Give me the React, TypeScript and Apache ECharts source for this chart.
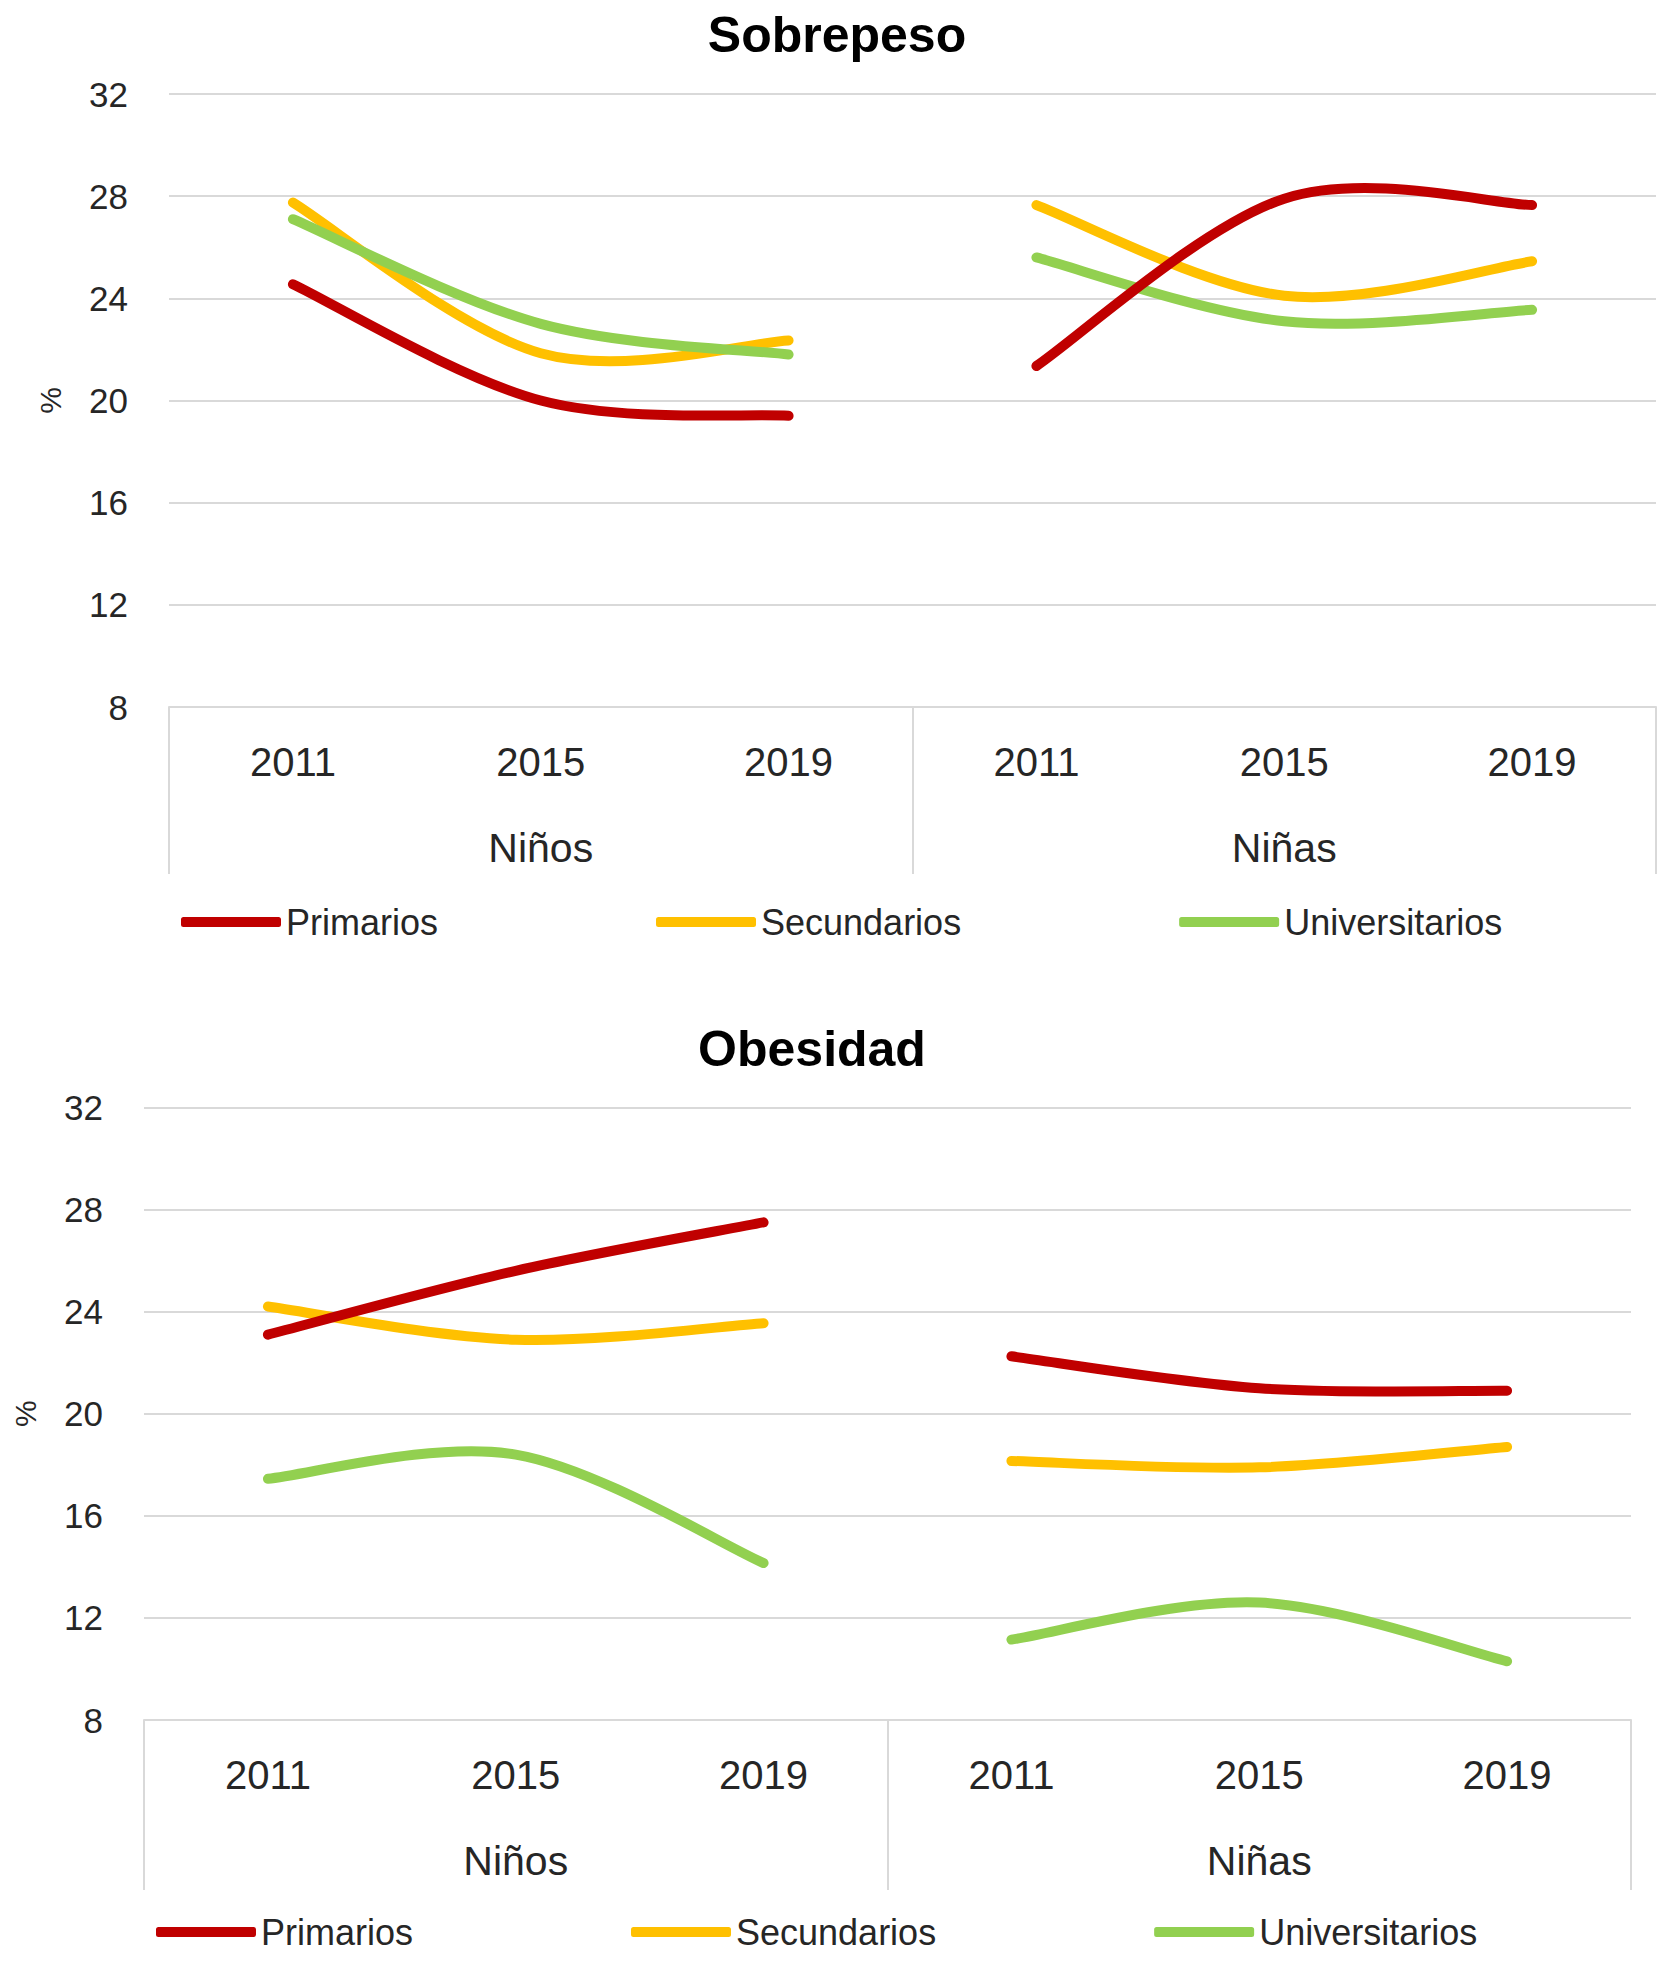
import React, { useEffect, useRef } from "react";
import * as echarts from "echarts";

const years = ["2011", "2015", "2019", "2011", "2015", "2019"];
const groups = ["Niños", "Niñas"];
const levels = ["Primarios", "Secundarios", "Universitarios"];
const levelColors = ["#C00000", "#FFC000", "#92D050"];
const yTicks = { min: 8, max: 32, interval: 4 };

// Sobrepeso (Niños 2011, 2015, 2019, Niñas 2011, 2015, 2019)
const sobrePrimarios = [24.55, 20.0, 19.4, 21.35, 27.9, 27.65];
const sobreSecundarios = [27.75, 21.85, 22.35, 27.65, 24.1, 25.45];
const sobreUniversitarios = [27.1, 23.0, 21.8, 25.6, 23.1, 23.55];

// Obesidad
const obesPrimarios = [23.1, 25.6, 27.5, 22.25, 21.0, 20.9];
const obesSecundarios = [24.2, 22.9, 23.55, 18.15, 17.9, 18.7];
const obesUniversitarios = [17.45, 18.4, 14.15, 11.15, 12.6, 10.3];

const titles = ["Sobrepeso", "Obesidad"];

const FONT = "Liberation Sans, Arial, sans-serif";
const TEXT = "#262626";
const GRIDC = "#D9D9D9";

// Catmull-Rom style smoothing (like a spreadsheet's smoothed line) on pixel points
function smoothPath(pts: number[][]): string {
  let d = `M${pts[0][0]},${pts[0][1]}`;
  for (let i = 0; i < pts.length - 1; i++) {
    const p0 = pts[i - 1] || pts[i];
    const p1 = pts[i];
    const p2 = pts[i + 1];
    const p3 = pts[i + 2] || pts[i + 1];
    const c1x = p1[0] + (p2[0] - p0[0]) / 6;
    const c1y = p1[1] + (p2[1] - p0[1]) / 6;
    const c2x = p2[0] - (p3[0] - p1[0]) / 6;
    const c2y = p2[1] - (p3[1] - p1[1]) / 6;
    d += ` C${c1x},${c1y} ${c2x},${c2y} ${p2[0]},${p2[1]}`;
  }
  return d;
}

export default function App() {
  const ref = useRef<HTMLDivElement>(null);

  useEffect(() => {
    if (!ref.current) return;
    const chart = echarts.init(ref.current, undefined, { renderer: "svg" });

    const panels = [
      { left: 169, top: 94, height: 613, tick: 167, legendLeft: 181, legendTop: 904, titleX: 832, titleTop: 5,
        data: [sobrePrimarios, sobreSecundarios, sobreUniversitarios] },
      { left: 144, top: 1107.5, height: 612.5, tick: 170, legendLeft: 156, legendTop: 1914, titleX: 807, titleTop: 1019,
        data: [obesPrimarios, obesSecundarios, obesUniversitarios] },
    ];

    const grid: any[] = [];
    const xAxis: any[] = [];
    const yAxis: any[] = [];
    const series: any[] = [];
    const legend: any[] = [];
    const title: any[] = [];

    panels.forEach((p, pi) => {
      grid.push({ left: p.left, top: p.top, width: 1487, height: p.height, containLabel: false, outerBoundsMode: "none" });
      xAxis.push({
        type: "category",
        gridIndex: pi,
        data: years,
        position: "bottom",
        boundaryGap: true,
        axisLine: { show: true, lineStyle: { color: GRIDC, width: 2 } },
        axisTick: { show: false },
        axisLabel: { margin: 35, fontSize: 40, color: TEXT, fontFamily: FONT, interval: 0 },
        splitLine: { show: false },
      });
      xAxis.push({
        type: "category",
        gridIndex: pi,
        data: groups,
        position: "bottom",
        boundaryGap: true,
        axisLine: { show: false },
        axisTick: { show: true, length: p.tick, interval: 0, alignWithLabel: false, lineStyle: { color: GRIDC, width: 2 } },
        axisLabel: { margin: 120, fontSize: 41, color: TEXT, fontFamily: FONT, interval: 0 },
        splitLine: { show: false },
      });
      yAxis.push({
        type: "value",
        gridIndex: pi,
        min: yTicks.min,
        max: yTicks.max,
        interval: yTicks.interval,
        name: "%",
        nameLocation: "middle",
        nameGap: 104,
        nameRotate: 90,
        nameTextStyle: { fontSize: 30, color: TEXT, fontFamily: FONT },
        axisLine: { show: false },
        axisTick: { show: false },
        axisLabel: { margin: 41, fontSize: 35, color: TEXT, fontFamily: FONT },
        splitLine: { show: true, lineStyle: { color: GRIDC, width: 2 } },
      });
      title.push({
        text: titles[pi],
        left: p.titleX,
        top: p.titleTop,
        textAlign: "center",
        textStyle: { fontSize: 50, fontWeight: "bold", color: "#000", fontFamily: FONT },
      });
      legend.push({
        data: levels,
        left: p.legendLeft,
        top: p.legendTop,
        padding: 0,
        icon: "roundRect",
        itemWidth: 100,
        itemHeight: 10,
        itemGap: 218,
        textStyle: { fontSize: 36, color: TEXT, fontFamily: FONT },
      });
      const order = [1, 2, 0];
      order.forEach((li) => {
        const vals = p.data[li];
        const color = levelColors[li];
        series.push({
          type: "custom",
          name: levels[li],
          xAxisIndex: pi * 2,
          yAxisIndex: pi,
          coordinateSystem: "cartesian2d",
          data: vals.map((v, i) => [i, v]),
          encode: { x: 0, y: 1 },
          itemStyle: { color },
          clip: false,
          renderItem: (params: any, api: any) => {
            if (params.dataIndex !== 0) return null;
            const halves = [[0, 1, 2], [3, 4, 5]];
            return {
              type: "group",
              children: halves.map((idx) => ({
                type: "path",
                shape: { pathData: smoothPath(idx.map((i) => api.coord([i, vals[i]]))) },
                style: { stroke: color, lineWidth: 10, fill: "none", lineCap: "round", lineJoin: "round" },
              })),
            };
          },
        });
      });
    });

    chart.setOption({
      animation: false,
      backgroundColor: "#fff",
      title,
      legend,
      grid,
      xAxis,
      yAxis,
      series,
    });
    return () => chart.dispose();
  }, []);

  return (
    <div
      ref={ref}
      style={{ position: "absolute", left: 0, top: 0, width: 1675, height: 1962, background: "#fff" }}
    />
  );
}
